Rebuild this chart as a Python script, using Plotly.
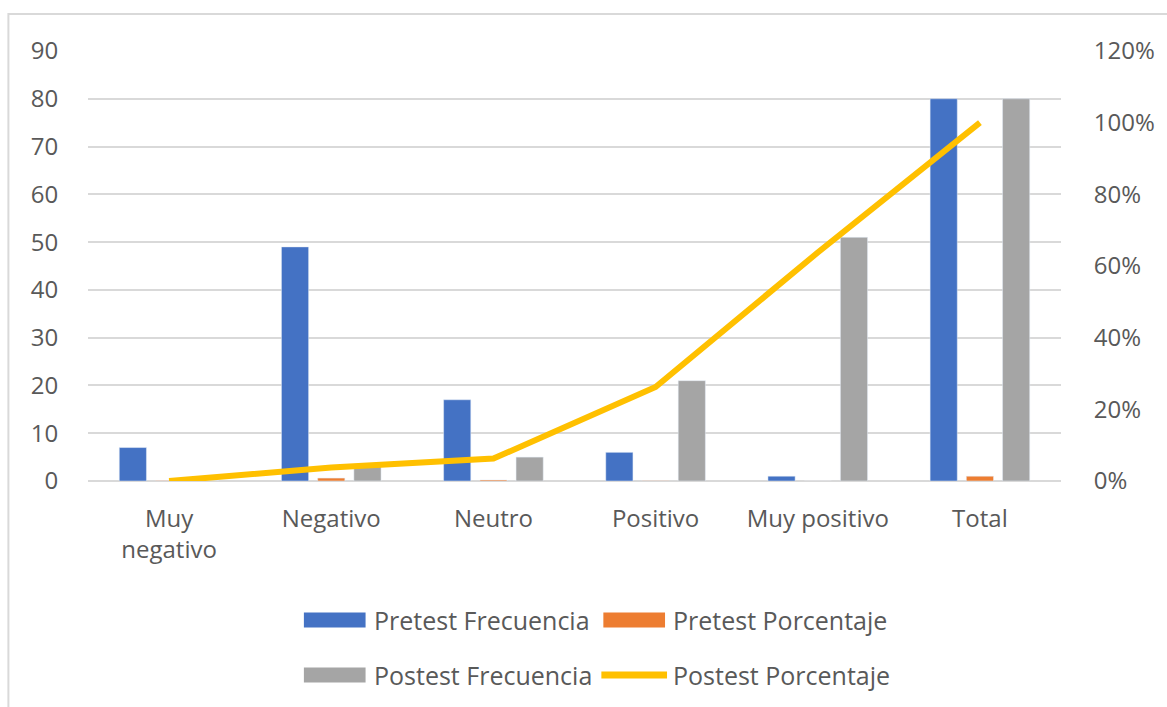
import plotly.graph_objects as go

# Categorías y series
categorias = ["Muy<br>negativo", "Negativo", "Neutro", "Positivo", "Muy positivo", "Total"]
pretest_frecuencia = [7, 49, 17, 6, 1, 80]
pretest_porcentaje = [0.0875, 0.6125, 0.2125, 0.075, 0.0125, 1.0]
postest_frecuencia = [0, 3, 5, 21, 51, 80]
postest_porcentaje = [0.0, 0.0375, 0.0625, 0.2625, 0.6375, 1.0]

y_ticks = list(range(0, 91, 10))
y2_ticks = [0, 0.2, 0.4, 0.6, 0.8, 1.0, 1.2]

AZUL = "#4472C4"
NARANJA = "#ED7D31"
GRIS = "#A5A5A5"
AMARILLO = "#FFC000"
TEXTO = "#595959"
REJILLA = "#D9D9D9"
FUENTE = "Open Sans"

W, H = 1167, 707
L, R, T, B = 88, 101, 51, 226
PW, PH = W - L - R, H - T - B


def px(x):
    return (x - L) / PW


def py(y):
    return (H - B - y) / PH


fig = go.Figure()
fig.add_bar(x=categorias, y=pretest_frecuencia, name="Pretest Frecuencia",
            marker_color=AZUL, showlegend=False)
fig.add_bar(x=categorias, y=pretest_porcentaje, name="Pretest Porcentaje",
            marker_color=NARANJA, showlegend=False)
fig.add_bar(x=categorias, y=postest_frecuencia, name="Postest Frecuencia",
            marker_color=GRIS, showlegend=False)
fig.add_scatter(x=categorias, y=postest_porcentaje, name="Postest Porcentaje",
                mode="lines", line=dict(color=AMARILLO, width=6),
                yaxis="y2", showlegend=False)

# Leyenda en dos filas
leyenda = [
    ("Pretest Frecuencia", AZUL, "bar", 305, 620),
    ("Pretest Porcentaje", NARANJA, "bar", 606, 620),
    ("Postest Frecuencia", GRIS, "bar", 305, 675),
    ("Postest Porcentaje", AMARILLO, "line", 606, 675),
]
shapes = [
    dict(type="rect", xref="paper", yref="paper",
         x0=px(8), y0=py(14), x1=px(W + 20), y1=py(H + 20),
         line=dict(color=REJILLA, width=2), fillcolor="rgba(0,0,0,0)", layer="below"),
]
annotations = []
for texto, color, tipo, x0, yc in leyenda:
    if tipo == "bar":
        shapes.append(dict(type="rect", xref="paper", yref="paper",
                           x0=px(x0), x1=px(x0 + 62), y0=py(yc - 7.5), y1=py(yc + 7.5),
                           fillcolor=color, line=dict(width=0)))
    else:
        shapes.append(dict(type="line", xref="paper", yref="paper",
                           x0=px(x0 - 2), x1=px(x0 + 64), y0=py(yc), y1=py(yc),
                           line=dict(color=color, width=7)))
    annotations.append(dict(text=texto, xref="paper", yref="paper",
                            x=px(x0 + 68), y=py(yc), xanchor="left", yanchor="middle",
                            showarrow=False, font=dict(family=FUENTE, size=25, color=TEXTO)))

fig.update_layout(
    width=W, height=H,
    margin=dict(l=L, r=R, t=T, b=B),
    paper_bgcolor="white", plot_bgcolor="white",
    barmode="group", bargap=0.33, bargroupgap=0.25,
    font=dict(family=FUENTE, size=24, color=TEXTO),
    showlegend=False,
    shapes=shapes, annotations=annotations,
    xaxis=dict(type="category", showgrid=False, showline=False, zeroline=False,
               ticks="outside", ticklen=16, tickcolor="rgba(0,0,0,0)",
               tickfont=dict(family=FUENTE, size=24, color=TEXTO)),
    yaxis=dict(range=[0, 90], tickvals=y_ticks, showgrid=True, gridcolor=REJILLA,
               gridwidth=2, zeroline=True, zerolinecolor=REJILLA, zerolinewidth=2,
               showline=False, ticks="outside", ticklen=24, tickcolor="rgba(0,0,0,0)",
               tickfont=dict(family=FUENTE, size=24, color=TEXTO)),
    yaxis2=dict(range=[0, 1.2], tickvals=y2_ticks, tickformat=".0%", overlaying="y",
                side="right", showgrid=False, zeroline=False, showline=False,
                ticks="outside", ticklen=27, tickcolor="rgba(0,0,0,0)",
                tickfont=dict(family=FUENTE, size=24, color=TEXTO)),
)

fig.write_html("out.html")
